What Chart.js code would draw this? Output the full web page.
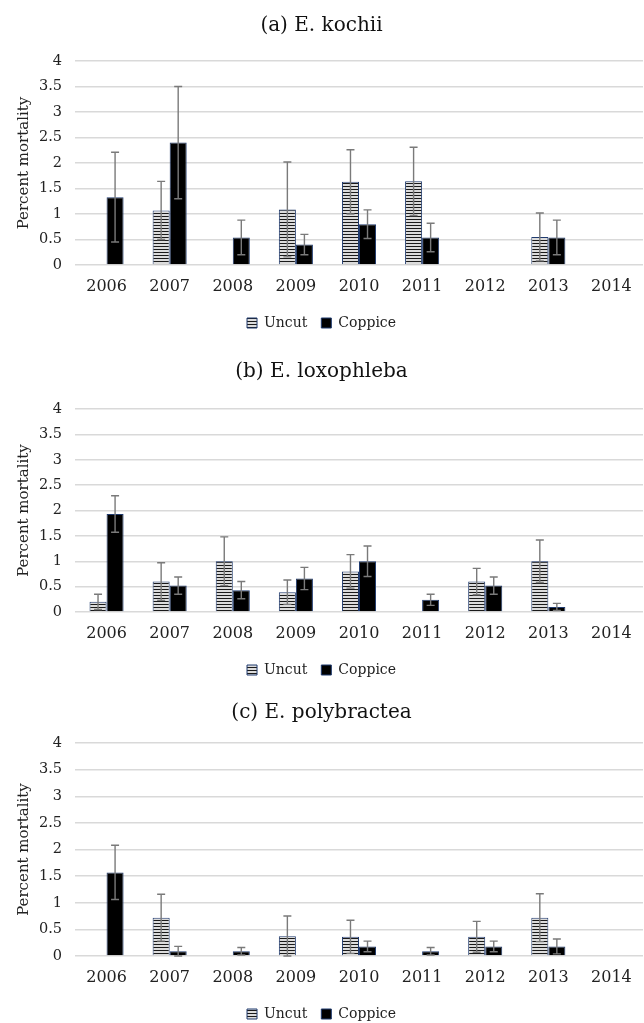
<!DOCTYPE html>
<html>
<head>
<meta charset="utf-8">
<script src="https://cdn.jsdelivr.net/npm/chart.js@4.4.0/dist/chart.umd.min.js"></script>
<style>
  body { margin: 0; background: #fff; }
  canvas { display: block; }
</style>
</head>
<body>
<canvas id="chart-a" width="644" height="340"></canvas>
<canvas id="chart-b" width="644" height="340"></canvas>
<canvas id="chart-c" width="644" height="343"></canvas>
<script>
const YEARS = ['2006', '2007', '2008', '2009', '2010', '2011', '2012', '2013', '2014'];

// (a) E. kochii
const kochiiUncut = [null, 1.07, null, 1.09, 1.63, 1.64, null, 0.55, null];
const kochiiUncutErr = [0, 0.57, 0, 0.93, 0.63, 0.67, 0, 0.47, 0];
const kochiiCoppice = [1.33, 2.4, 0.54, 0.4, 0.8, 0.54, null, 0.54, null];
const kochiiCoppiceErr = [0.88, 1.1, 0.34, 0.2, 0.28, 0.28, 0, 0.34, 0];

// (b) E. loxophleba
const loxoUncut = [0.2, 0.6, 1.0, 0.39, 0.8, null, 0.6, 1.0, null];
const loxoUncutErr = [0.15, 0.37, 0.48, 0.24, 0.33, 0, 0.26, 0.42, 0];
const loxoCoppice = [1.93, 0.52, 0.43, 0.66, 1.0, 0.24, 0.52, 0.1, null];
const loxoCoppiceErr = [0.36, 0.17, 0.17, 0.22, 0.3, 0.11, 0.17, 0.07, 0];

// (c) E. polybractea
const polyUncut = [null, 0.72, null, 0.37, 0.36, null, 0.36, 0.72, null];
const polyUncutErr = [0, 0.44, 0, 0.38, 0.31, 0, 0.29, 0.45, 0];
const polyCoppice = [1.57, 0.09, 0.09, null, 0.18, 0.09, 0.18, 0.18, null];
const polyCoppiceErr = [0.51, 0.09, 0.07, 0, 0.1, 0.07, 0.1, 0.14, 0];

const Y_TICK_MAX = 4;
const Y_TICK_STEP = 0.5;

const FONT = "'DejaVu Serif', 'Liberation Serif', serif";
Chart.defaults.color = '#222';
Chart.defaults.font.family = FONT;

// horizontal stripe fill used for the Uncut bars
function stripePattern() {
  const c = document.createElement('canvas');
  c.width = 4;
  c.height = 3;
  const g = c.getContext('2d');
  g.fillStyle = '#dcdcdc';
  g.fillRect(0, 0, 4, 3);
  g.fillStyle = '#1a1a1a';
  g.fillRect(0, 0, 4, 1);
  return g.createPattern(c, 'repeat');
}
const STRIPES = stripePattern();

const errorBars = {
  id: 'errorBars',
  afterDatasetsDraw(chart) {
    const ctx = chart.ctx;
    const yScale = chart.scales.y;
    ctx.save();
    ctx.strokeStyle = '#7a7a7a';
    ctx.lineWidth = 1.4;
    chart.data.datasets.forEach((ds, i) => {
      const meta = chart.getDatasetMeta(i);
      meta.data.forEach((bar, j) => {
        const v = ds.data[j];
        const e = ds.errors[j];
        if (v == null || !e) return;
        const top = yScale.getPixelForValue(v + e);
        const bot = yScale.getPixelForValue(Math.max(0, v - e));
        const x = bar.x;
        ctx.beginPath();
        ctx.moveTo(x, top);
        ctx.lineTo(x, bot);
        ctx.moveTo(x - 4, top);
        ctx.lineTo(x + 4, top);
        ctx.moveTo(x - 4, bot);
        ctx.lineTo(x + 4, bot);
        ctx.stroke();
      });
    });
    ctx.restore();
  },
};

const LEGEND_PAD = 14;
const X_AXIS_H = 51 - LEGEND_PAD;

// box: titleY / plotTop / plotBottom are pixel positions inside the canvas
function makePanel(canvasId, title, uncut, uncutErr, coppice, coppiceErr, box) {
  const canvas = document.getElementById(canvasId);
  const legendH = canvas.height - box.plotBottom - X_AXIS_H;
  return new Chart(canvas, {
    type: 'bar',
    data: {
      labels: YEARS,
      datasets: [
        {
          label: 'Uncut',
          data: uncut,
          errors: uncutErr,
          backgroundColor: STRIPES,
          borderColor: '#1f3a6e',
          borderWidth: 1,
        },
        {
          label: 'Coppice',
          data: coppice,
          errors: coppiceErr,
          backgroundColor: '#000',
          borderColor: '#1f3a6e',
          borderWidth: 1,
        },
      ],
    },
    options: {
      responsive: false,
      animation: false,
      categoryPercentage: 0.54,
      barPercentage: 1,
      layout: { padding: { left: 0, right: 1, top: 0, bottom: 0 } },
      plugins: {
        title: {
          display: true,
          text: title,
          color: '#111',
          font: { size: 20, weight: 'normal' },
          padding: { top: box.titleY - 12, bottom: box.plotTop - box.titleY - 12 },
        },
        legend: {
          position: 'bottom',
          maxHeight: legendH,
          labels: {
            boxWidth: 10,
            boxHeight: 10,
            padding: LEGEND_PAD,
            color: '#222',
            font: { size: 14 },
          },
        },
        tooltip: { enabled: false },
      },
      scales: {
        x: {
          grid: { display: false, drawTicks: false },
          border: { display: false },
          ticks: { padding: 12, font: { size: 16 }, color: '#222' },
          afterFit(scale) { scale.height = X_AXIS_H; },
        },
        y: {
          min: 0,
          max: Y_TICK_MAX,
          grid: { color: '#d9d9d9', lineWidth: 1.5, drawTicks: false },
          border: { display: false },
          ticks: {
            stepSize: Y_TICK_STEP,
            padding: 13,
            font: { size: 14.5 },
            color: '#222',
            callback: (v) => String(v),
          },
          title: {
            display: true,
            text: 'Percent mortality',
            color: '#222',
            font: { size: 15 },
            padding: { top: 15, bottom: 0 },
          },
          afterFit(scale) { scale.width = 75; },
        },
      },
    },
    plugins: [errorBars],
  });
}

makePanel('chart-a', '(a) E. kochii', kochiiUncut, kochiiUncutErr, kochiiCoppice, kochiiCoppiceErr,
  { titleY: 26, plotTop: 61, plotBottom: 265 });
makePanel('chart-b', '(b) E. loxophleba', loxoUncut, loxoUncutErr, loxoCoppice, loxoCoppiceErr,
  { titleY: 32, plotTop: 69, plotBottom: 272 });
makePanel('chart-c', '(c) E. polybractea', polyUncut, polyUncutErr, polyCoppice, polyCoppiceErr,
  { titleY: 33, plotTop: 63, plotBottom: 276 });
</script>
</body>
</html>
